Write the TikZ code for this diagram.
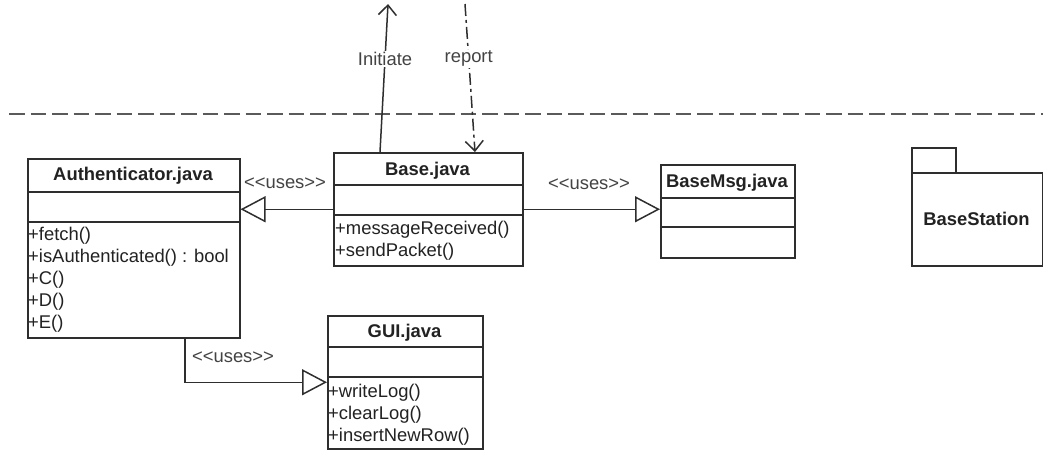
\documentclass[tikz,border=0pt]{standalone}
\usepackage{fontspec}
\setmainfont{Liberation Sans}[Ligatures=TeXOff]
\usetikzlibrary{arrows.meta}
\definecolor{ln}{HTML}{2E2E2E}
\definecolor{tx}{HTML}{222222}
\definecolor{dl}{HTML}{5A5A5A}
\begin{document}
\begin{tikzpicture}[x=1pt,y=-1pt,
  box/.style={draw=ln, line width=1.5pt, fill=white, inner sep=0pt, anchor=north west},
  title/.style={font=\bfseries\fontsize{18.4}{22}\selectfont, text=tx, anchor=base, inner sep=0pt},
  meth/.style={font=\fontsize{18.4}{22}\selectfont, text=tx, anchor=base west, inner sep=0pt},
  lbl/.style={font=\fontsize{18.4}{22}\selectfont, text=tx!85!white, fill=white, inner sep=1pt},
  sepline/.style={draw=ln, line width=1.5pt},
  uses/.style={draw=ln, line width=1.5pt, -{Triangle[open, length=25pt, width=26pt, line width=1.5pt]}},
  flow/.style={draw=ln, line width=1.5pt, -{Straight Barb[length=10pt, width=18pt, line width=1.5pt]}}
]
\useasboundingbox (0,0) rectangle (1043,453);

% system boundary
\coordinate (bl) at (9,114);
\coordinate (br) at (1043,114);
\draw[dl, line width=2.4pt, dash pattern=on 15.5pt off 6pt] (bl) -- (br);

% Authenticator
\node[box, minimum width=212pt, minimum height=179pt] (auth) at (27,158) {};
\draw[sepline] (27,192) -- (239,192);
\draw[sepline] (27,222) -- (239,222);
\node[title] (authT) at (133,180) {Authenticator.java};
\node[meth] (a1) at (28,240) {+fetch()};
\node[meth] (a2) at (28,262) {+isAuthenticated() : bool};
\node[meth] (a3) at (28,284) {+C()};
\node[meth] (a4) at (28,306) {+D()};
\node[meth] (a5) at (28,328) {+E()};

% Base
\node[box, minimum width=189pt, minimum height=113pt] (base) at (333,152) {};
\draw[sepline] (333,185) -- (522,185);
\draw[sepline] (333,215) -- (522,215);
\node[title] (baseT) at (427.5,175) {Base.java};
\node[meth] (b1) at (335,234) {+messageReceived()};
\node[meth] (b2) at (335,256) {+sendPacket()};

% BaseMsg
\node[box, minimum width=134pt, minimum height=93pt] (msg) at (660,164) {};
\draw[sepline] (660,198) -- (794,198);
\draw[sepline] (660,227) -- (794,227);
\node[title, anchor=base west] (msgT) at (666,187) {BaseMsg.java};

% GUI
\node[box, minimum width=155pt, minimum height=133pt] (gui) at (327,315) {};
\draw[sepline] (327,347) -- (482,347);
\draw[sepline] (327,377) -- (482,377);
\node[title] (guiT) at (404.5,337) {GUI.java};
\node[meth] (g1) at (328,397) {+writeLog()};
\node[meth] (g2) at (328,419) {+clearLog()};
\node[meth] (g3) at (328,441) {+insertNewRow()};

% BaseStation package
\node[box, minimum width=44pt, minimum height=25pt] (pkgtab) at (911,147) {};
\node[box, minimum width=131pt, minimum height=93pt] (pkg) at (911,172) {};
\node[title] (pkgT) at (976.5,225) {BaseStation};

% connectors
\draw[uses] (base.west) -- (base.west -| auth.east);
\node[lbl] (u1) at (285,183) {<<uses>>};
\draw[uses] (base.east) -- (base.east -| msg.west);
\node[lbl] (u2) at (589,184) {<<uses>>};
\draw[uses] ([xshift=158pt]auth.south west) |- (gui.west);
\node[lbl] (u3) at (233,357) {<<uses>>};

\coordinate (initTop) at (388,4);
\draw[flow] ([xshift=47pt]base.north west) -- node[lbl, pos=0.63] (initL) {Initiate} (initTop);
\coordinate (repTop) at (465,4);
\draw[flow, dash pattern=on 12pt off 4pt on 3pt off 4pt] (repTop) -- node[lbl, pos=0.37] (repL) {report} ([xshift=142pt]base.north west);
\end{tikzpicture}
\end{document}
